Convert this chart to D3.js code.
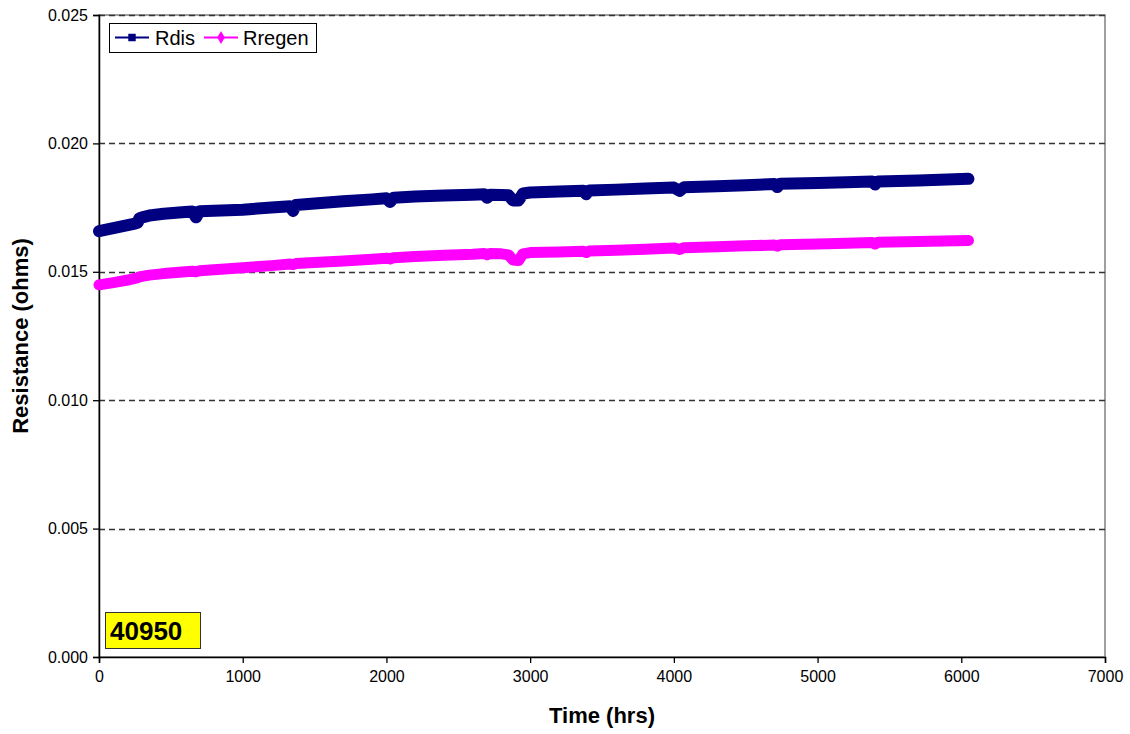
<!DOCTYPE html>
<html>
<head>
<meta charset="utf-8">
<script src="https://cdn.jsdelivr.net/npm/d3@7"></script>
<style>
  html, body { margin: 0; padding: 0; background: #fff; }
  svg { display: block; font-family: "Liberation Sans", Arial, sans-serif; }
</style>
</head>
<body>
<svg id="chart" width="1130" height="734"></svg>
<script>
// ---- data ----
const hours = [0, 100, 200, 250, 270, 280, 300, 350, 450, 600, 650, 675, 700, 800, 1000, 1200, 1330, 1350, 1370, 1500, 1700, 1900, 2000, 2025, 2050, 2200, 2400, 2600, 2680, 2700, 2720, 2800, 2850, 2880, 2920, 2950, 3000, 3200, 3370, 3390, 3410, 3600, 3800, 4000, 4040, 4070, 4300, 4500, 4700, 4720, 4740, 5000, 5200, 5380, 5400, 5420, 5700, 6050];
const rdis = [0.01658, 0.01670, 0.01682, 0.01688, 0.01692, 0.01708, 0.01712, 0.01719, 0.01726, 0.01733, 0.01735, 0.01712, 0.01736, 0.01738, 0.01742, 0.01750, 0.01755, 0.01737, 0.01760, 0.01766, 0.01775, 0.01782, 0.01786, 0.01772, 0.01788, 0.01793, 0.01797, 0.01800, 0.01802, 0.01788, 0.01800, 0.01799, 0.01798, 0.01778, 0.01778, 0.01805, 0.01809, 0.01813, 0.01816, 0.01802, 0.01817, 0.01820, 0.01824, 0.01828, 0.01815, 0.01829, 0.01833, 0.01837, 0.01842, 0.01830, 0.01843, 0.01846, 0.01849, 0.01852, 0.01840, 0.01852, 0.01856, 0.01862];
const rregen = [0.01449, 0.01458, 0.01468, 0.01474, 0.01477, 0.01480, 0.01482, 0.01487, 0.01493, 0.01500, 0.01502, 0.01500, 0.01504, 0.01508, 0.01516, 0.01524, 0.01530, 0.01528, 0.01532, 0.01536, 0.01542, 0.01549, 0.01553, 0.01550, 0.01555, 0.01560, 0.01564, 0.01568, 0.01571, 0.01566, 0.01571, 0.01570, 0.01566, 0.01546, 0.01544, 0.01570, 0.01575, 0.01577, 0.01580, 0.01575, 0.01581, 0.01584, 0.01588, 0.01593, 0.01587, 0.01594, 0.01598, 0.01601, 0.01604, 0.01600, 0.01605, 0.01608, 0.01611, 0.01614, 0.01608, 0.01615, 0.01618, 0.01622];
const seriesNames = ["Rdis", "Rregen"];
const xTicks = [0, 1000, 2000, 3000, 4000, 5000, 6000, 7000];
const yTicks = [0, 0.005, 0.010, 0.015, 0.020, 0.025];
const xTitle = "Time (hrs)";
const yTitle = "Resistance (ohms)";
const boxLabel = "40950";

(function () {
// ---- layout ----
const svg = d3.select("#chart");
const pLeft = 99, pRight = 1105, pTop = 15, pBottom = 657;
const x = d3.scaleLinear().domain([0, 7000]).range([pLeft, pRight]);
const y = d3.scaleLinear().domain([0, 0.025]).range([pBottom, pTop]);

// plot border (grey)
svg.append("rect").attr("x", pLeft).attr("y", pTop).attr("width", pRight - pLeft).attr("height", pBottom - pTop)
  .attr("fill", "#fff").attr("stroke", "#808080").attr("stroke-width", 1.5);

// gridlines
svg.append("g").selectAll("line").data(yTicks.filter(d => d > 0)).join("line")
  .attr("x1", pLeft).attr("x2", pRight)
  .attr("y1", d => Math.round(y(d)) + 0.5).attr("y2", d => Math.round(y(d)) + 0.5)
  .attr("stroke", "#333").attr("stroke-width", 1.3).attr("stroke-dasharray", "6,4");

// axes
const xAxis = d3.axisBottom(x).tickValues(xTicks).tickFormat(d3.format("d")).tickSize(6).tickPadding(8);
const yAxis = d3.axisLeft(y).tickValues(yTicks).tickFormat(d3.format(".3f")).tickSize(6).tickPadding(5);
const gx = svg.append("g").attr("transform", `translate(0,${pBottom})`).call(xAxis);
const gy = svg.append("g").attr("transform", `translate(${pLeft},0)`).call(yAxis);
[gx, gy].forEach(g => {
  g.select(".domain").attr("stroke", "#000").attr("stroke-width", 1.5);
  g.selectAll(".tick line").attr("stroke", "#000").attr("stroke-width", 1.3);
  g.selectAll(".tick text").attr("fill", "#000").style("font-size", "16px")
    .style("font-family", '"Liberation Sans", Arial, sans-serif');
});

// series lines
const line = d3.line().x((d, i) => x(hours[i])).y(d => y(d)).curve(d3.curveLinear);
const series = [
  { name: seriesNames[0], values: rdis, color: "#000080", width: 12 },
  { name: seriesNames[1], values: rregen, color: "#ff00ff", width: 11 }
];
svg.append("g").selectAll("path").data(series).join("path")
  .attr("d", d => line(d.values))
  .attr("fill", "none")
  .attr("stroke", d => d.color)
  .attr("stroke-width", d => d.width)
  .attr("stroke-linejoin", "round")
  .attr("stroke-linecap", "round");

// legend
const lg = svg.append("g");
lg.append("rect").attr("x", 109.5).attr("y", 23.5).attr("width", 207).attr("height", 29)
  .attr("fill", "#fff").attr("stroke", "#000").attr("stroke-width", 1);
const legendItems = [
  { name: seriesNames[0], color: "#000080", x0: 115, shape: "square", tx: 155 },
  { name: seriesNames[1], color: "#ff00ff", x0: 204, shape: "diamond", tx: 243 }
];
legendItems.forEach(it => {
  lg.append("line").attr("x1", it.x0).attr("x2", it.x0 + 34).attr("y1", 37.5).attr("y2", 37.5)
    .attr("stroke", it.color).attr("stroke-width", 2);
  lg.append("path")
    .attr("d", d3.symbol().type(it.shape === "square" ? d3.symbolSquare : d3.symbolDiamond).size(it.shape === "square" ? 56 : 50)())
    .attr("transform", `translate(${it.x0 + 17},37.5)`)
    .attr("fill", it.color);
  lg.append("text").attr("x", it.tx).attr("y", 45).text(it.name)
    .style("font-size", "20px").attr("fill", "#000");
});

// yellow label box
svg.append("rect").attr("x", 105.5).attr("y", 612.5).attr("width", 95).attr("height", 36)
  .attr("fill", "#ffff00").attr("stroke", "#333").attr("stroke-width", 1);
svg.append("text").attr("x", 110).attr("y", 640).text(boxLabel)
  .style("font-size", "26px").style("font-weight", "bold").attr("fill", "#000");

// axis titles
svg.append("text").attr("x", (pLeft + pRight) / 2).attr("y", 723).attr("text-anchor", "middle")
  .text(xTitle).style("font-size", "22px").style("font-weight", "bold");
svg.append("text").attr("transform", `translate(28,${(pTop + pBottom) / 2}) rotate(-90)`).attr("text-anchor", "middle")
  .text(yTitle).style("font-size", "22px").style("font-weight", "bold");
})();
</script>
</body>
</html>
